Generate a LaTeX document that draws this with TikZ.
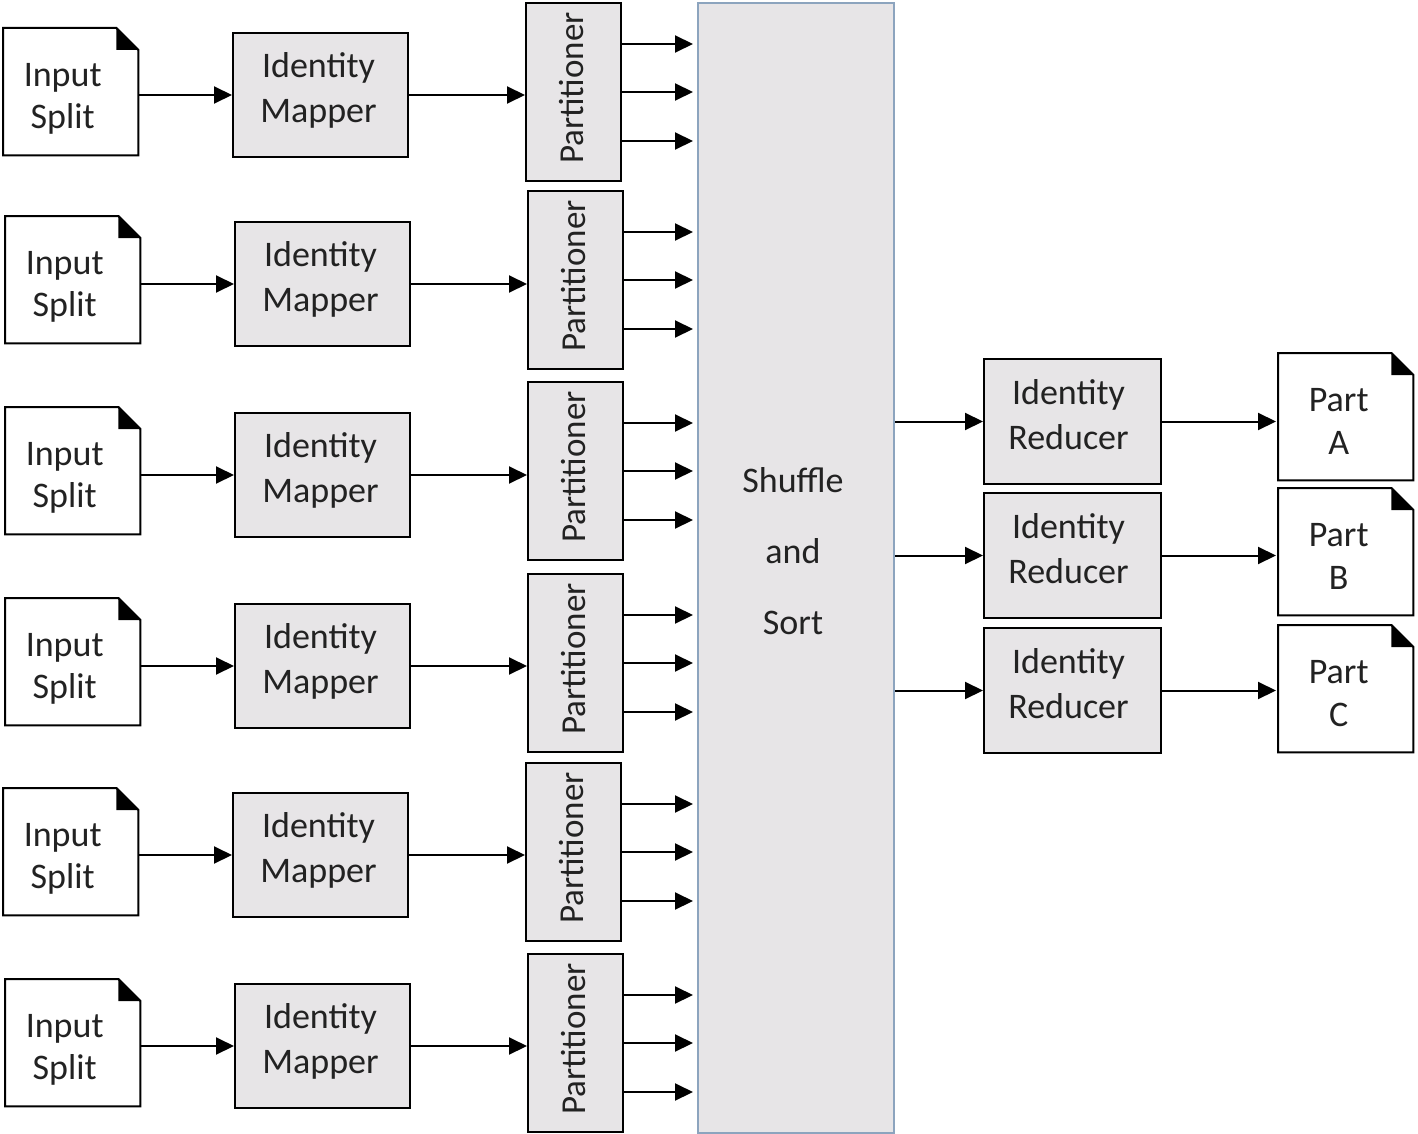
\documentclass[tikz,border=0pt]{standalone}
\usepackage{fontspec}
\setmainfont{Carlito}
\usetikzlibrary{arrows.meta}
\definecolor{boxgray}{HTML}{E7E5E7}
\definecolor{shufborder}{HTML}{8CA4BE}
\definecolor{txt}{HTML}{222222}
\tikzset{
  docbox/.style={minimum width=135pt, minimum height=127pt, anchor=north west, inner sep=0pt},
  lbl/.style={align=center, inner sep=0pt, text=txt, font=\fontsize{36}{#1}\selectfont},
  lbl/.default=44,
  mapbox/.style={draw, line width=2pt, fill=boxgray, minimum width=175pt, minimum height=124pt, anchor=north west, inner sep=0pt},
  partbox/.style={draw, line width=2pt, fill=boxgray, minimum width=95pt, minimum height=178pt, anchor=north west, inner sep=0pt},
  conn/.style={line width=2pt, -{Triangle[length=18pt,width=17pt]}},
  docline/.style={line width=2pt},
}
\newcommand{\docframe}[1]{%
  \draw[docline] (#1.north west) -- ([xshift=-22pt]#1.north east) -- ([yshift=-22pt]#1.north east) -- (#1.south east) -- (#1.south west) -- cycle;
  \fill ([xshift=-22pt]#1.north east) -- ([xshift=-22pt,yshift=-22pt]#1.north east) -- ([yshift=-22pt]#1.north east) -- cycle;}
\begin{document}
\begin{tikzpicture}[x=1pt,y=-1pt]
\useasboundingbox (0,0) rectangle (1418,1134);
% shuffle box
\node[draw=shufborder, line width=2pt, fill=boxgray, minimum width=196pt, minimum height=1130pt, anchor=north west, inner sep=0pt] (shuf) at (697,2) {};
\node[lbl=71] (shuftext) at ([xshift=-3pt,yshift=17pt]shuf.center) {Shuffle\\and\\Sort};
\foreach \i/\dx/\dy/\mx/\my/\px/\py in {1/3/28/232/32/525/2, 2/5/216/234/221/527/190, 3/5/407/234/412/527/381, 4/5/598/234/603/527/573, 5/3/788/232/792/525/762, 6/5/979/234/983/527/953}{
  \node[docbox] (in\i) at (\dx,\dy) {};
  \docframe{in\i}
  \node[lbl=42] (in\i t) at ([xshift=-8pt,yshift=-7pt]in\i.center) {Input\\Split};
  \node[mapbox] (map\i) at (\mx,\my) {};
  \node[lbl=45] (map\i t) at ([xshift=-2pt,yshift=5pt]map\i.center) {Identity\\Mapper};
  \node[partbox] (par\i) at (\px,\py) {};
  \node[lbl, rotate=90, font=\fontsize{35}{44}\selectfont] (parlab\i) at ([xshift=-2pt,yshift=4pt]par\i.center) {Partitioner};
  \coordinate (pa\i) at ([yshift=48pt]par\i.east);
  \coordinate (pc\i) at ([yshift=-49pt]par\i.east);
  \draw[conn] (in\i.east |- map\i.west) -- (map\i.west);
  \draw[conn] (map\i.east) -- (par\i.west |- map\i.east);
  \draw[conn, shorten >=4pt] (pa\i) -- (shuf.west |- pa\i);
  \draw[conn, shorten >=4pt] (par\i.east) -- (shuf.west |- par\i.east);
  \draw[conn, shorten >=4pt] (pc\i) -- (shuf.west |- pc\i);
}
\foreach \i/\ry/\oy/\lab in {1/358/353/A, 2/492/488/B, 3/627/625/C}{
  \node[mapbox, minimum width=177pt, minimum height=125pt] (red\i) at (983,\ry) {};
  \node[lbl=45] (red\i t) at ([xshift=-4pt,yshift=7pt]red\i.center) {Identity\\Reducer};
  \node[docbox] (out\i) at (1278,\oy) {};
  \docframe{out\i}
  \node[lbl=43] (out\i t) at ([xshift=-7pt,yshift=-5pt]out\i.center) {Part\\\lab};
  \draw[conn] (shuf.east |- red\i.west) -- (red\i.west);
  \draw[conn, shorten >=2pt] (red\i.east) -- (out\i.west |- red\i.east);
}
\end{tikzpicture}
\end{document}
